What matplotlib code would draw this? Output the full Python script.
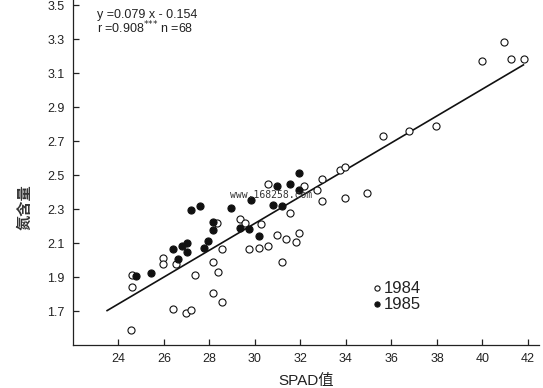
import matplotlib
matplotlib.use("Agg")
import matplotlib.pyplot as plt
import numpy as np

plt.rcParams['font.family'] = ['Liberation Sans', 'Noto Sans CJK SC', 'DejaVu Sans']

# 1984 (open circles)
spad_1984 = [24.56, 24.59, 24.59, 25.94, 25.94, 26.52, 26.38, 26.98, 27.20, 27.38,
             28.14, 28.36, 28.15, 28.55, 28.32, 28.55, 29.36, 29.56, 29.73, 30.17,
             30.28, 30.57, 30.57, 30.96, 31.18, 31.36, 31.54, 31.79, 31.95, 32.17,
             32.74, 32.94, 32.93, 33.75, 33.96, 33.94, 34.93, 35.62, 36.75, 37.96,
             39.96, 40.94, 41.26, 41.81]
n_1984 = [1.588, 1.839, 1.912, 2.012, 1.976, 1.978, 1.709, 1.691, 1.706, 1.912,
          1.990, 1.931, 1.806, 1.751, 2.219, 2.064, 2.243, 2.216, 2.062, 2.069,
          2.210, 2.447, 2.084, 2.149, 1.990, 2.124, 2.275, 2.106, 2.158, 2.434,
          2.412, 2.478, 2.347, 2.528, 2.547, 2.365, 2.396, 2.729, 2.762, 2.787,
          3.172, 3.281, 3.184, 3.182]

# 1985 (filled circles)
spad_1985 = [24.78, 25.42, 26.38, 26.79, 27.03, 27.03, 26.61, 27.18, 27.59, 27.75,
             27.95, 28.15, 28.15, 28.93, 29.36, 29.74, 29.82, 30.18, 30.78, 31.17,
             30.97, 31.54, 31.95, 31.95]
n_1985 = [1.906, 1.921, 2.065, 2.085, 2.102, 2.047, 2.006, 2.297, 2.318, 2.068,
          2.112, 2.225, 2.176, 2.308, 2.187, 2.182, 2.351, 2.142, 2.322, 2.318,
          2.435, 2.450, 2.514, 2.415]

# regression
slope = 0.079
intercept = -0.154
fit_x = [23.5, 41.8]

xticks = [24, 26, 28, 30, 32, 34, 36, 38, 40, 42]
yticks = [1.7, 1.9, 2.1, 2.3, 2.5, 2.7, 2.9, 3.1, 3.3, 3.5]

fig = plt.figure(figsize=(5.43, 3.88), dpi=100)
ax = fig.add_axes([0.1344, 0.1108, 0.858, 0.8892])

fx = np.array(fit_x)
ax.plot(fx, slope * fx + intercept, color='#111111', lw=1.2, zorder=1)

ax.scatter(spad_1984, n_1984, s=26, facecolors='white', edgecolors='#111111',
           linewidths=0.8, zorder=3)
ax.scatter(spad_1985, n_1985, s=26, facecolors='#111111', edgecolors='#111111',
           linewidths=0.8, zorder=3)

ax.set_xlim(22.0, 42.48)
ax.set_ylim(1.5, 3.53)
ax.set_xticks(xticks)
ax.set_xticklabels([str(t) for t in xticks])
ax.set_yticks(yticks)
ax.set_yticklabels([f"{t:.1f}" for t in yticks])
ax.tick_params(direction='in', length=4, width=0.9, labelsize=9, colors='#222222', pad=6)
for s in ['top', 'right']:
    ax.spines[s].set_visible(False)
for s in ['left', 'bottom']:
    ax.spines[s].set_linewidth(0.9)
    ax.spines[s].set_color('#222222')

ax.set_xlabel('SPAD值', fontsize=11, color='#222222', labelpad=6)
fig.text(0.046, 0.465, '氮含量', rotation=90, fontsize=11, fontweight='bold',
         family=['Noto Sans CJK SC'], color='#333333', ha='center', va='center')

ax.text(0.052, 0.957, 'y =0.079 x - 0.154', transform=ax.transAxes,
        fontsize=9, color='#222222', va='center')
ax.text(0.052, 0.919, r'r =0.908$^{{*}{*}{*}}$ n =68', transform=ax.transAxes,
        fontsize=9, color='#222222', va='center')

# legend
ax.scatter([35.36], [1.835], s=14, facecolors='white', edgecolors='#111111', linewidths=0.8)
ax.scatter([35.36], [1.74], s=14, facecolors='#111111', edgecolors='#111111', linewidths=0.8)
ax.text(35.65, 1.835, '1984', fontsize=12, va='center', color='#222222')
ax.text(35.65, 1.74, '1985', fontsize=12, va='center', color='#222222')

# watermark
fig.text(0.4236, 0.497, 'www.168258.com', fontsize=7, family='DejaVu Sans Mono',
         color='#333333', va='center')

fig.savefig('out.png', dpi=100)
